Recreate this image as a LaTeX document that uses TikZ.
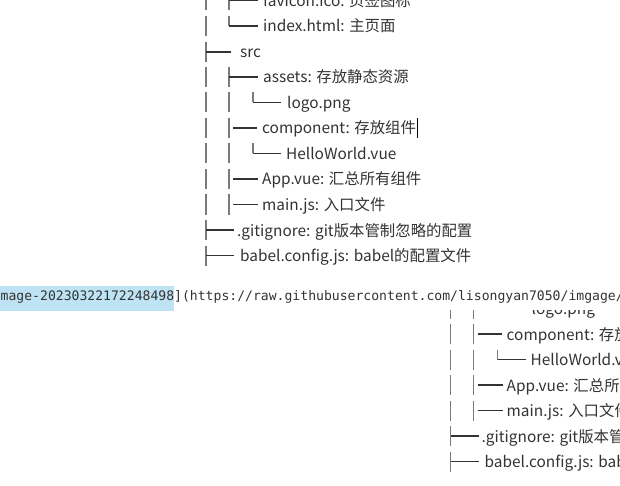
\documentclass[tikz,border=0pt]{standalone}
\usepackage{fontspec}
\newfontfamily\cjk{Noto Sans CJK SC}
\newfontfamily\codefont{DejaVu Sans Mono}
\definecolor{txt}{HTML}{333333}
\definecolor{vbar}{HTML}{7A7A7A}
\definecolor{hbar}{HTML}{333333}
\definecolor{hl}{HTML}{BEE3F4}
\tikzset{
  vb/.style={draw=vbar, line width=1.5pt},
  hb/.style={draw=hbar, line width=1.7pt},
  lbl/.style={anchor=base west, inner sep=0pt, text=txt, font=\cjk\fontsize{15.4}{18}\selectfont},
  codetext/.style={anchor=base west, inner sep=0pt, text=txt, font=\codefont\fontsize{13.1}{16}\selectfont},
}
\newcommand\filetree{%
  % level-1 vertical bars
  \foreach \r in {0.5,26,52,77,102.5,128,153.5,179,204.5,230,255.5} {\draw[vb] (206,\r-10) -- (206,\r+10);}
  % level-2 vertical bars
  \foreach \r in {0.5,77,102.5,128,153.5,179,204.5} {\draw[vb] (229,\r-10) -- (229,\r+10);}
  \draw[vb] (229,16) -- (229,26);
  % level-3 corners
  \foreach \r in {102.5,153.5} {\draw[vb] (253,\r-10) -- (253,\r);}
  % horizontal strokes
  \draw[hb] (229,0.5) -- (258,0.5);
  \draw[hb] (229,26) -- (258,26);
  \draw[hb] (206,52) -- (231,52);
  \draw[hb] (229,77) -- (258,77);
  \draw[hb] (253,102.5) -- (281,102.5);
  \draw[hb] (233,128) -- (257,128);
  \draw[hb] (253,153.5) -- (281,153.5);
  \draw[hb] (233,179) -- (258,179);
  \draw[hb] (233,204.5) -- (258,204.5);
  \draw[hb] (206,230) -- (234,230);
  \draw[hb] (206,255.5) -- (234,255.5);
  % labels
  \node[lbl] (fav) at (263,6.5) {favicon.ico: 页签图标};
  \node[lbl] (idx) at (263,32) {index.html: 主页面};
  \node[lbl] (src) at (240,58) {src};
  \node[lbl] (assets) at (263,83) {assets: 存放静态资源};
  \node[lbl] (logo) at (287,108.5) {logo.png};
  \node[lbl] (comp) at (262,134) {component: 存放组件};
  \node[lbl] (hello) at (286,159.5) {HelloWorld.vue};
  \node[lbl] (app) at (262,185) {App.vue: 汇总所有组件};
  \node[lbl] (main) at (262,210.5) {main.js: 入口文件};
  \node[lbl] (git) at (237,236) {.gitignore: git版本管制忽略的配置};
  \node[lbl] (babel) at (240,261.5) {babel.config.js: babel的配置文件};
}
\begin{document}
\begin{tikzpicture}[x=1pt,y=-1pt]
\useasboundingbox (0,0) rectangle (620,486);
\clip (0,0) rectangle (620,486);
\fill[white] (0,0) rectangle (620,486);
\begin{scope}[name prefix=top-]
  \filetree
\end{scope}
\draw[black, line width=1pt] ([xshift=1pt]top-comp.base east) ++(0,4) -- ++(0,-20);
\begin{scope}
  \clip (0,310.5) rectangle (620,486);
  \begin{scope}[shift={(244.5,206)}, name prefix=bot-]
    \filetree
  \end{scope}
\end{scope}
\fill[hl] (0,285.5) rectangle (174,310.5);
\node[codetext] (code) at (0.5,300) {mage-20230322172248498](https://raw.githubusercontent.com/lisongyan7050/imgage/};
\end{tikzpicture}
\end{document}
